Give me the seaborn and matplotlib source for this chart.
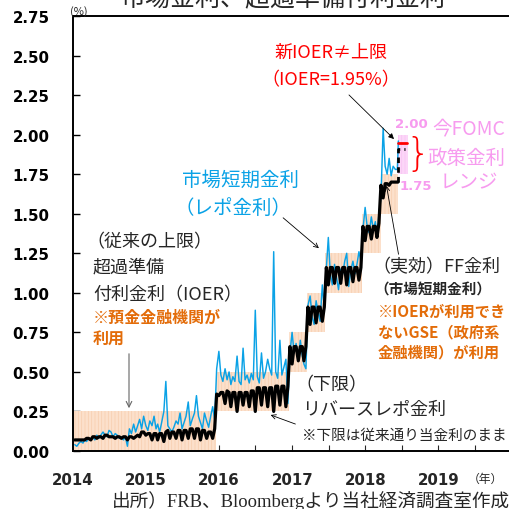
import numpy as np
import pandas as pd
import matplotlib
matplotlib.use("Agg")
import matplotlib.pyplot as plt
import matplotlib.dates as mdates
import seaborn as sns

# ---------------- data ----------------
# market short-term rate (repo), 3 readings per month (10th, 20th, month end)
blue_2014 = [0.04, 0.03, 0.05, 0.06, 0.05, 0.07, 0.06, 0.08, 0.07, 0.09, 0.07, 0.10,
             0.08, 0.10, 0.12, 0.10, 0.09, 0.13, 0.12, 0.09, 0.11, 0.10, 0.08, 0.09,
             0.07, 0.09, 0.03, 0.14, 0.11, 0.17, 0.12, 0.16, 0.20, 0.14, 0.22, 0.16]
blue_2015 = [0.13, 0.19, 0.16, 0.22, 0.14, 0.17, 0.12, 0.18, 0.25, 0.44, 0.16, 0.14,
             0.12, 0.15, 0.19, 0.17, 0.24, 0.14, 0.18, 0.22, 0.31, 0.16, 0.20, 0.24,
             0.35, 0.22, 0.18, 0.14, 0.24, 0.19, 0.15, 0.22, 0.28, 0.20, 0.52, 0.63]
blue_2016 = [0.48, 0.44, 0.52, 0.45, 0.50, 0.42, 0.47, 0.44, 0.60, 0.44, 0.42, 0.65,
             0.45, 0.48, 0.43, 0.49, 0.45, 0.89, 0.47, 0.43, 0.62, 0.46, 0.50, 0.58,
             0.52, 0.48, 1.26, 0.50, 0.46, 0.70, 0.48, 0.53, 0.58, 0.30, 0.62, 0.75]
blue_2017 = [0.62, 0.68, 0.58, 0.70, 0.60, 0.55, 0.52, 0.92, 0.98, 0.85, 0.80, 0.95,
             0.88, 0.82, 1.05, 0.90, 1.15, 1.35, 1.12, 1.05, 1.18, 1.10, 1.02, 1.15,
             1.12, 1.20, 1.25, 1.04, 1.14, 1.20, 1.12, 1.18, 1.26, 1.20, 1.40, 1.54]
blue_2018 = [1.42, 1.38, 1.48, 1.40, 1.45, 1.36, 1.50, 1.60, 2.04, 1.80, 1.75, 1.85,
             1.74, 1.80, 1.78, 1.78, 1.96]

# effective FF rate, same dates
effr_2014 = [0.07, 0.07, 0.07, 0.07, 0.07, 0.07, 0.08, 0.08, 0.07, 0.09, 0.09, 0.08,
             0.09, 0.09, 0.08, 0.10, 0.10, 0.09, 0.09, 0.09, 0.08, 0.09, 0.09, 0.08,
             0.09, 0.09, 0.07, 0.09, 0.09, 0.08, 0.09, 0.10, 0.09, 0.12, 0.12, 0.10]
effr_2015 = [0.11, 0.11, 0.07, 0.11, 0.11, 0.07, 0.11, 0.11, 0.06, 0.12, 0.13, 0.08,
             0.12, 0.12, 0.08, 0.13, 0.13, 0.07, 0.13, 0.13, 0.08, 0.14, 0.14, 0.08,
             0.14, 0.14, 0.07, 0.13, 0.13, 0.08, 0.12, 0.12, 0.08, 0.14, 0.36, 0.35]
effr_2016 = [0.37, 0.37, 0.30, 0.38, 0.37, 0.28, 0.37, 0.37, 0.25, 0.37, 0.37, 0.29,
             0.37, 0.37, 0.28, 0.38, 0.38, 0.25, 0.40, 0.40, 0.29, 0.40, 0.40, 0.28,
             0.40, 0.40, 0.25, 0.41, 0.41, 0.29, 0.41, 0.41, 0.28, 0.41, 0.66, 0.55]
effr_2017 = [0.66, 0.66, 0.57, 0.66, 0.66, 0.57, 0.66, 0.91, 0.80, 0.91, 0.91, 0.81,
             0.91, 0.91, 0.82, 0.91, 1.16, 1.05, 1.16, 1.16, 1.06, 1.16, 1.16, 1.06,
             1.16, 1.16, 1.05, 1.16, 1.16, 1.07, 1.16, 1.16, 1.08, 1.16, 1.42, 1.33]
effr_2018 = [1.42, 1.42, 1.34, 1.42, 1.42, 1.35, 1.44, 1.68, 1.60, 1.69, 1.69, 1.68,
             1.70, 1.70, 1.70, 1.70, 1.70]

# FF target range
band_start = ["2014-01-01", "2015-12-16", "2016-12-14", "2017-03-15", "2017-06-14", "2017-12-13", "2018-03-21"]
band_end = ["2015-12-16", "2016-12-14", "2017-03-15", "2017-06-14", "2017-12-13", "2018-03-21", "2018-06-13"]
band_low = [0.00, 0.25, 0.50, 0.75, 1.00, 1.25, 1.50]
band_high = [0.25, 0.50, 0.75, 1.00, 1.25, 1.50, 1.75]
new_band_dates = ["2018-06-13", "2018-07-31"]
new_band_low = 1.75
new_band_high = 2.00
ioer_dates = ["2018-06-14", "2018-07-28"]
ioer_vals = [1.95, 1.95]
effr_new_dates = ["2018-06-14", "2018-06-14", "2018-07-20"]
effr_new_vals = [1.70, 1.91, 1.91]

yticks = [0.00, 0.25, 0.50, 0.75, 1.00, 1.25, 1.50, 1.75, 2.00, 2.25, 2.50, 2.75]
years = ["2014", "2015", "2016", "2017", "2018", "2019"]

# ---------------- dates ----------------
grid = []
for m in pd.period_range("2014-01", "2018-05", freq="M"):
    s = m.start_time
    grid += [s + pd.Timedelta(days=9), s + pd.Timedelta(days=19), m.end_time.normalize()]
blue_dates = grid + [pd.Timestamp("2018-06-10"), pd.Timestamp("2018-06-15")]
effr_dates = grid + [pd.Timestamp("2018-06-10"), pd.Timestamp("2018-06-13")]
blue_vals = blue_2014 + blue_2015 + blue_2016 + blue_2017 + blue_2018
effr_vals = effr_2014 + effr_2015 + effr_2016 + effr_2017 + effr_2018

# ---------------- style ----------------
sns.set_style("ticks")
plt.rcParams["font.family"] = ["Noto Sans CJK JP", "DejaVu Sans"]
plt.rcParams["hatch.linewidth"] = 0.5

W, H = 509, 510
fig = plt.figure(figsize=(W / 100, H / 100), dpi=100)
ax = fig.add_axes([73 / W, 58 / H, 1 - 73 / W, (452 - 17) / H])


def fp(x, y):
    return (x / W, 1 - y / H)


BLUE = "#0AA2E6"
ORANGE = "#E36C09"
PINK = "#F79BEF"
RED = "#FF0000"

# bands
for s, e, lo, hi in zip(band_start, band_end, band_low, band_high):
    ax.fill_between([pd.Timestamp(s), pd.Timestamp(e)], lo, hi, facecolor="#FCE0CB",
                    edgecolor="#F7CDAE", hatch="|||||", linewidth=0, zorder=1)
ax.fill_between([pd.Timestamp(d) for d in new_band_dates], new_band_low, new_band_high,
                facecolor="#FCD6F8", edgecolor="#F8C2F3", hatch="|||||", linewidth=0, zorder=1)

# lines
sns.lineplot(x=blue_dates, y=blue_vals, ax=ax, color=BLUE, linewidth=1.05, zorder=3,
             estimator=None, sort=False)
sns.lineplot(x=effr_dates, y=effr_vals, ax=ax, color="black", linewidth=2.3, zorder=4,
             estimator=None, sort=False)
sns.lineplot(x=[pd.Timestamp(d) for d in effr_new_dates], y=effr_new_vals, ax=ax,
             color="black", linewidth=2.0, linestyle=(0, (2, 1.5)), zorder=4,
             estimator=None, sort=False)
sns.lineplot(x=[pd.Timestamp(d) for d in ioer_dates], y=ioer_vals, ax=ax,
             color=RED, linewidth=2.0, zorder=5, estimator=None, sort=False)

# axes
ax.set_xlim(pd.Timestamp("2014-01-01"), pd.Timestamp("2019-12-20"))
ax.set_ylim(0, 2.75)
ax.set_yticks(yticks)
ax.set_yticklabels([f"{v:.2f}" for v in yticks], fontfamily="DejaVu Sans", fontweight="bold", fontsize=10.8)
ax.set_xticks([pd.Timestamp(f"{y}-01-01") for y in years])
ax.set_xticklabels(years, fontfamily="DejaVu Sans", fontweight="bold", fontsize=10.8)
ax.xaxis.set_minor_locator(mdates.MonthLocator(bymonth=7))
ax.tick_params(axis="y", direction="in", length=5, width=1, pad=17, colors="black")
ax.tick_params(axis="x", which="both", direction="in", length=4, width=0.8, pad=15)
ax.set_xlabel("")
ax.set_ylabel("")
for side in ["left", "bottom", "top"]:
    ax.spines[side].set_linewidth(1.4)
    ax.spines[side].set_color("black")
ax.spines["right"].set_visible(False)
ax.grid(False)

# ---------------- texts ----------------
def txt(x, y, s, **kw):
    fig.text(x / W, 1 - y / H, s, **kw)

txt(283, -1, "市場金利、超過準備付利金利", ha="center", va="center", fontsize=18)
txt(70, 12, "(%)", ha="left", va="center", fontsize=8)
txt(468, 479, "（年）", ha="left", va="center", fontsize=8.5)
txt(112, 501, "出所）FRB、Bloombergより当社経済調査室作成", ha="left", va="center",
    fontsize=13.4, family=["Liberation Serif", "Noto Sans CJK JP"])

txt(331, 53, "新IOER≠上限", ha="center", va="center", fontsize=13, color=RED)
txt(331, 80, "（IOER=1.95%）", ha="center", va="center", fontsize=13, color=RED)

txt(182, 180, "市場短期金利", ha="left", va="center", fontsize=14, color=BLUE)
txt(175, 208, "（レポ金利）", ha="left", va="center", fontsize=14, color=BLUE)

txt(86, 242, "（従来の上限）", ha="left", va="center", fontsize=13)
txt(93, 268, "超過準備", ha="left", va="center", fontsize=13)
txt(93, 295, "付利金利（IOER）", ha="left", va="center", fontsize=13)
txt(93, 318, "※預金金融機関が", ha="left", va="center", fontsize=11.5, color=ORANGE, fontweight="bold")
txt(93, 339, "利用", ha="left", va="center", fontsize=11.5, color=ORANGE, fontweight="bold")

txt(372, 267, "（実効）FF金利", ha="left", va="center", fontsize=13)
txt(374, 290, "（市場短期金利）", ha="left", va="center", fontsize=10.5, fontweight="bold")
txt(378, 312, "※IOERが利用でき", ha="left", va="center", fontsize=11, color=ORANGE, fontweight="bold")
txt(378, 332, "ないGSE（政府系", ha="left", va="center", fontsize=11, color=ORANGE, fontweight="bold")
txt(378, 352, "金融機関）が利用", ha="left", va="center", fontsize=11, color=ORANGE, fontweight="bold")

txt(295, 385, "（下限）", ha="left", va="center", fontsize=13)
txt(302, 410, "リバースレポ金利", ha="left", va="center", fontsize=13)
txt(302, 436, "※下限は従来通り当金利のまま", ha="left", va="center", fontsize=10.5)

txt(411, 125, "2.00", ha="center", va="center", fontsize=9.5, color=PINK, fontweight="bold", family="DejaVu Sans")
txt(416, 187, "1.75", ha="center", va="center", fontsize=9.5, color=PINK, fontweight="bold", family="DejaVu Sans")
txt(432, 130, "今FOMC", ha="left", va="center", fontsize=14, color=PINK)
txt(427, 158, "政策金利", ha="left", va="center", fontsize=14, color=PINK)
txt(440, 183, "レンジ", ha="left", va="center", fontsize=14, color=PINK)
txt(418, 155, "}", ha="center", va="center", fontsize=28, color=RED, family="DejaVu Sans", fontweight="light")

# arrows
arw = dict(xycoords="figure fraction", textcoords="figure fraction")
ax.annotate("", xy=fp(396, 142), xytext=fp(347, 94),
            arrowprops=dict(arrowstyle="-|>", color="black", lw=0.6, mutation_scale=8), **arw)
ax.annotate("", xy=fp(321, 251), xytext=fp(281, 217),
            arrowprops=dict(arrowstyle="->", color="black", lw=0.6, mutation_scale=8), **arw)
ax.annotate("", xy=fp(129, 412), xytext=fp(129, 352),
            arrowprops=dict(arrowstyle="->", color="#666666", lw=0.8, mutation_scale=10), **arw)
ax.annotate("", xy=fp(386, 184), xytext=fp(399, 258),
            arrowprops=dict(arrowstyle="->", color="black", lw=0.6, mutation_scale=8), **arw)
ax.annotate("", xy=fp(268, 415), xytext=fp(298, 426),
            arrowprops=dict(arrowstyle="->", color="black", lw=0.6, mutation_scale=8), **arw)

fig.savefig("out.png", dpi=100)
